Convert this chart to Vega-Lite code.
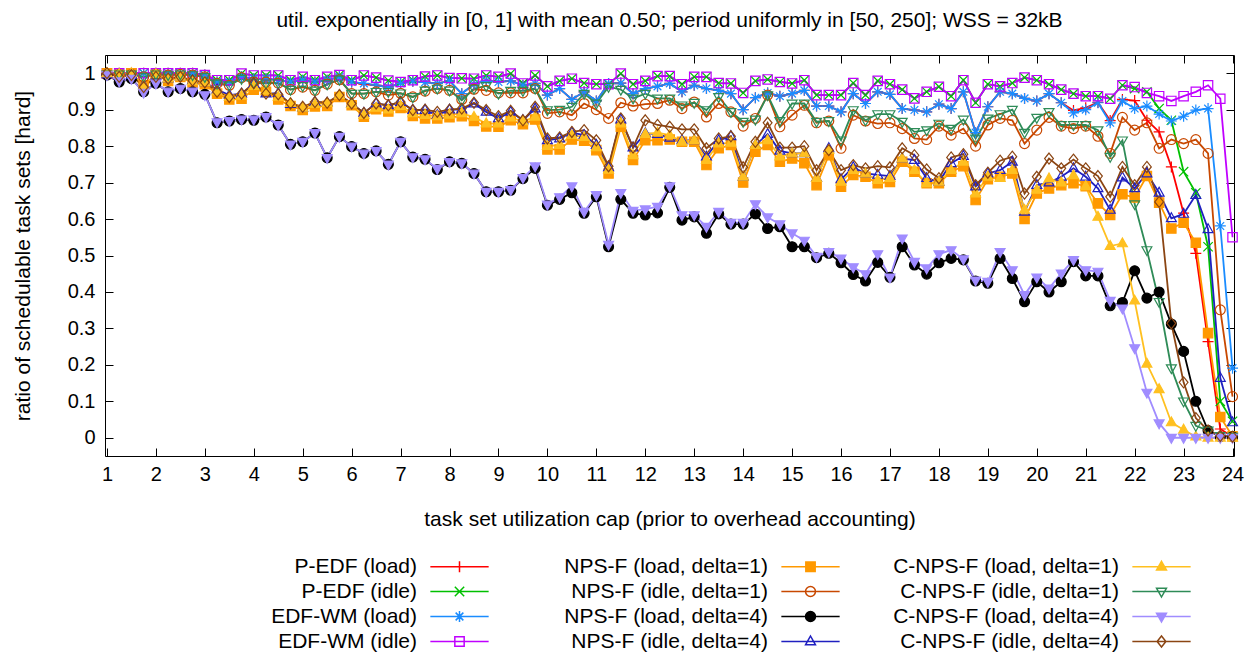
{
"$schema": "https://vega.github.io/schema/vega-lite/v6.json",
"width": 1129,
"height": 401,
"autosize": {"type": "none"},
"padding": {"left": 105, "top": 55, "right": 24, "bottom": 197},
"background": "white",
"title": {"text": "util. exponentially in [0, 1] with mean 0.50; period uniformly in [50, 250]; WSS = 32kB", "font": "Liberation Sans", "fontSize": 21, "fontWeight": "normal", "color": "#000000", "offset": 24, "anchor": "middle"},
"config": {
  "font": "Liberation Sans",
  "view": {"stroke": "#000000", "strokeWidth": 1},
  "axis": {"domain": false, "grid": false, "ticks": true, "tickSize": -8, "tickColor": "#000000", "tickWidth": 1, "labelFont": "Liberation Sans", "labelFontSize": 20, "labelColor": "#000000", "titleFont": "Liberation Sans", "titleFontSize": 21, "titleFontWeight": "normal", "titleColor": "#000000"},
  "legend": {"orient": "none", "legendX": 344, "legendY": 501, "columns": 3, "gridAlign": "all", "columnPadding": 50, "rowPadding": 3, "labelFont": "Liberation Sans", "labelFontSize": 21, "labelColor": "#000000", "labelAlign": "right", "labelOffset": -53, "symbolSize": 121, "symbolStrokeWidth": 1.5, "labelLimit": 400}
},
"datasets": {
"names": [
{"s":"PL","name":"P-EDF (load)"},{"s":"PI","name":"P-EDF (idle)"},{"s":"WL","name":"EDF-WM (load)"},{"s":"WI","name":"EDF-WM (idle)"},
{"s":"N1L","name":"NPS-F (load, delta=1)"},{"s":"N1I","name":"NPS-F (idle, delta=1)"},{"s":"N4L","name":"NPS-F (load, delta=4)"},{"s":"N4I","name":"NPS-F (idle, delta=4)"},
{"s":"C1L","name":"C-NPS-F (load, delta=1)"},{"s":"C1I","name":"C-NPS-F (idle, delta=1)"},{"s":"C4L","name":"C-NPS-F (load, delta=4)"},{"s":"C4I","name":"C-NPS-F (idle, delta=4)"}
],
"d": [
{"x":1,"s":"PL","y":1},{"x":1.25,"s":"PL","y":1},{"x":1.5,"s":"PL","y":1},{"x":1.75,"s":"PL","y":1},{"x":2,"s":"PL","y":1},{"x":2.25,"s":"PL","y":1},{"x":2.5,"s":"PL","y":1},{"x":2.75,"s":"PL","y":1},{"x":3,"s":"PL","y":0.995},{"x":3.25,"s":"PL","y":0.976},{"x":3.5,"s":"PL","y":0.976},{"x":3.75,"s":"PL","y":0.99},{"x":4,"s":"PL","y":0.985},{"x":4.25,"s":"PL","y":0.985},{"x":4.5,"s":"PL","y":0.981},{"x":4.75,"s":"PL","y":0.976},{"x":5,"s":"PL","y":0.981},{"x":5.25,"s":"PL","y":0.976},{"x":5.5,"s":"PL","y":0.981},{"x":5.75,"s":"PL","y":0.99},{"x":6,"s":"PL","y":0.976},{"x":6.25,"s":"PL","y":0.97},{"x":6.5,"s":"PL","y":0.967},{"x":6.75,"s":"PL","y":0.962},{"x":7,"s":"PL","y":0.972},{"x":7.25,"s":"PL","y":0.978},{"x":7.5,"s":"PL","y":0.975},{"x":7.75,"s":"PL","y":0.972},{"x":8,"s":"PL","y":0.979},{"x":8.25,"s":"PL","y":0.944},{"x":8.5,"s":"PL","y":0.97},{"x":8.75,"s":"PL","y":0.98},{"x":9,"s":"PL","y":0.976},{"x":9.25,"s":"PL","y":0.979},{"x":9.5,"s":"PL","y":0.967},{"x":9.75,"s":"PL","y":0.972},{"x":10,"s":"PL","y":0.94},{"x":10.25,"s":"PL","y":0.958},{"x":10.5,"s":"PL","y":0.928},{"x":10.75,"s":"PL","y":0.949},{"x":11,"s":"PL","y":0.924},{"x":11.25,"s":"PL","y":0.972},{"x":11.5,"s":"PL","y":0.973},{"x":11.75,"s":"PL","y":0.944},{"x":12,"s":"PL","y":0.958},{"x":12.25,"s":"PL","y":0.964},{"x":12.5,"s":"PL","y":0.972},{"x":12.75,"s":"PL","y":0.949},{"x":13,"s":"PL","y":0.967},{"x":13.25,"s":"PL","y":0.958},{"x":13.5,"s":"PL","y":0.953},{"x":13.75,"s":"PL","y":0.944},{"x":14,"s":"PL","y":0.9},{"x":14.25,"s":"PL","y":0.933},{"x":14.5,"s":"PL","y":0.946},{"x":14.75,"s":"PL","y":0.937},{"x":15,"s":"PL","y":0.944},{"x":15.25,"s":"PL","y":0.953},{"x":15.5,"s":"PL","y":0.91},{"x":15.75,"s":"PL","y":0.91},{"x":16,"s":"PL","y":0.894},{"x":16.25,"s":"PL","y":0.944},{"x":16.5,"s":"PL","y":0.917},{"x":16.75,"s":"PL","y":0.949},{"x":17,"s":"PL","y":0.942},{"x":17.25,"s":"PL","y":0.903},{"x":17.5,"s":"PL","y":0.899},{"x":17.75,"s":"PL","y":0.894},{"x":18,"s":"PL","y":0.915},{"x":18.25,"s":"PL","y":0.903},{"x":18.5,"s":"PL","y":0.949},{"x":18.75,"s":"PL","y":0.837},{"x":19,"s":"PL","y":0.908},{"x":19.25,"s":"PL","y":0.949},{"x":19.5,"s":"PL","y":0.944},{"x":19.75,"s":"PL","y":0.931},{"x":20,"s":"PL","y":0.924},{"x":20.25,"s":"PL","y":0.944},{"x":20.5,"s":"PL","y":0.919},{"x":20.75,"s":"PL","y":0.898},{"x":21,"s":"PL","y":0.905},{"x":21.25,"s":"PL","y":0.92},{"x":21.5,"s":"PL","y":0.87},{"x":21.75,"s":"PL","y":0.928},{"x":22,"s":"PL","y":0.925},{"x":22.25,"s":"PL","y":0.871},{"x":22.5,"s":"PL","y":0.839},{"x":22.75,"s":"PL","y":0.743},{"x":23,"s":"PL","y":0.616},{"x":23.25,"s":"PL","y":0.506},{"x":23.5,"s":"PL","y":0.264},{"x":23.75,"s":"PL","y":0.024},{"x":24,"s":"PL","y":0.003},
{"x":1,"s":"PI","y":1},{"x":1.25,"s":"PI","y":1},{"x":1.5,"s":"PI","y":1},{"x":1.75,"s":"PI","y":1},{"x":2,"s":"PI","y":1},{"x":2.25,"s":"PI","y":1},{"x":2.5,"s":"PI","y":1},{"x":2.75,"s":"PI","y":1},{"x":3,"s":"PI","y":0.995},{"x":3.25,"s":"PI","y":0.981},{"x":3.5,"s":"PI","y":0.981},{"x":3.75,"s":"PI","y":0.999},{"x":4,"s":"PI","y":0.994},{"x":4.25,"s":"PI","y":0.994},{"x":4.5,"s":"PI","y":0.994},{"x":4.75,"s":"PI","y":0.981},{"x":5,"s":"PI","y":0.99},{"x":5.25,"s":"PI","y":0.981},{"x":5.5,"s":"PI","y":0.99},{"x":5.75,"s":"PI","y":0.995},{"x":6,"s":"PI","y":0.981},{"x":6.25,"s":"PI","y":0.994},{"x":6.5,"s":"PI","y":0.988},{"x":6.75,"s":"PI","y":0.98},{"x":7,"s":"PI","y":0.976},{"x":7.25,"s":"PI","y":0.981},{"x":7.5,"s":"PI","y":0.991},{"x":7.75,"s":"PI","y":0.994},{"x":8,"s":"PI","y":0.987},{"x":8.25,"s":"PI","y":0.986},{"x":8.5,"s":"PI","y":0.985},{"x":8.75,"s":"PI","y":0.994},{"x":9,"s":"PI","y":0.99},{"x":9.25,"s":"PI","y":0.999},{"x":9.5,"s":"PI","y":0.972},{"x":9.75,"s":"PI","y":0.994},{"x":10,"s":"PI","y":0.964},{"x":10.25,"s":"PI","y":0.979},{"x":10.5,"s":"PI","y":0.985},{"x":10.75,"s":"PI","y":0.973},{"x":11,"s":"PI","y":0.97},{"x":11.25,"s":"PI","y":0.97},{"x":11.5,"s":"PI","y":0.999},{"x":11.75,"s":"PI","y":0.97},{"x":12,"s":"PI","y":0.979},{"x":12.25,"s":"PI","y":0.992},{"x":12.5,"s":"PI","y":0.992},{"x":12.75,"s":"PI","y":0.97},{"x":13,"s":"PI","y":0.99},{"x":13.25,"s":"PI","y":0.99},{"x":13.5,"s":"PI","y":0.973},{"x":13.75,"s":"PI","y":0.972},{"x":14,"s":"PI","y":0.946},{"x":14.25,"s":"PI","y":0.979},{"x":14.5,"s":"PI","y":0.983},{"x":14.75,"s":"PI","y":0.976},{"x":15,"s":"PI","y":0.972},{"x":15.25,"s":"PI","y":0.981},{"x":15.5,"s":"PI","y":0.94},{"x":15.75,"s":"PI","y":0.94},{"x":16,"s":"PI","y":0.94},{"x":16.25,"s":"PI","y":0.973},{"x":16.5,"s":"PI","y":0.94},{"x":16.75,"s":"PI","y":0.979},{"x":17,"s":"PI","y":0.97},{"x":17.25,"s":"PI","y":0.955},{"x":17.5,"s":"PI","y":0.931},{"x":17.75,"s":"PI","y":0.949},{"x":18,"s":"PI","y":0.963},{"x":18.25,"s":"PI","y":0.937},{"x":18.5,"s":"PI","y":0.981},{"x":18.75,"s":"PI","y":0.919},{"x":19,"s":"PI","y":0.97},{"x":19.25,"s":"PI","y":0.964},{"x":19.5,"s":"PI","y":0.973},{"x":19.75,"s":"PI","y":0.988},{"x":20,"s":"PI","y":0.981},{"x":20.25,"s":"PI","y":0.97},{"x":20.5,"s":"PI","y":0.955},{"x":20.75,"s":"PI","y":0.944},{"x":21,"s":"PI","y":0.937},{"x":21.25,"s":"PI","y":0.937},{"x":21.5,"s":"PI","y":0.93},{"x":21.75,"s":"PI","y":0.967},{"x":22,"s":"PI","y":0.958},{"x":22.25,"s":"PI","y":0.949},{"x":22.5,"s":"PI","y":0.903},{"x":22.75,"s":"PI","y":0.871},{"x":23,"s":"PI","y":0.73},{"x":23.25,"s":"PI","y":0.672},{"x":23.5,"s":"PI","y":0.524},{"x":23.75,"s":"PI","y":0.1},{"x":24,"s":"PI","y":0.045},
{"x":1,"s":"WL","y":1},{"x":1.25,"s":"WL","y":1},{"x":1.5,"s":"WL","y":1},{"x":1.75,"s":"WL","y":1},{"x":2,"s":"WL","y":1},{"x":2.25,"s":"WL","y":1},{"x":2.5,"s":"WL","y":1},{"x":2.75,"s":"WL","y":1},{"x":3,"s":"WL","y":0.995},{"x":3.25,"s":"WL","y":0.976},{"x":3.5,"s":"WL","y":0.976},{"x":3.75,"s":"WL","y":0.99},{"x":4,"s":"WL","y":0.985},{"x":4.25,"s":"WL","y":0.985},{"x":4.5,"s":"WL","y":0.981},{"x":4.75,"s":"WL","y":0.976},{"x":5,"s":"WL","y":0.981},{"x":5.25,"s":"WL","y":0.976},{"x":5.5,"s":"WL","y":0.981},{"x":5.75,"s":"WL","y":0.99},{"x":6,"s":"WL","y":0.976},{"x":6.25,"s":"WL","y":0.972},{"x":6.5,"s":"WL","y":0.967},{"x":6.75,"s":"WL","y":0.962},{"x":7,"s":"WL","y":0.972},{"x":7.25,"s":"WL","y":0.978},{"x":7.5,"s":"WL","y":0.975},{"x":7.75,"s":"WL","y":0.972},{"x":8,"s":"WL","y":0.979},{"x":8.25,"s":"WL","y":0.944},{"x":8.5,"s":"WL","y":0.97},{"x":8.75,"s":"WL","y":0.98},{"x":9,"s":"WL","y":0.976},{"x":9.25,"s":"WL","y":0.979},{"x":9.5,"s":"WL","y":0.967},{"x":9.75,"s":"WL","y":0.972},{"x":10,"s":"WL","y":0.94},{"x":10.25,"s":"WL","y":0.958},{"x":10.5,"s":"WL","y":0.928},{"x":10.75,"s":"WL","y":0.949},{"x":11,"s":"WL","y":0.924},{"x":11.25,"s":"WL","y":0.972},{"x":11.5,"s":"WL","y":0.973},{"x":11.75,"s":"WL","y":0.944},{"x":12,"s":"WL","y":0.958},{"x":12.25,"s":"WL","y":0.964},{"x":12.5,"s":"WL","y":0.972},{"x":12.75,"s":"WL","y":0.949},{"x":13,"s":"WL","y":0.967},{"x":13.25,"s":"WL","y":0.958},{"x":13.5,"s":"WL","y":0.953},{"x":13.75,"s":"WL","y":0.944},{"x":14,"s":"WL","y":0.9},{"x":14.25,"s":"WL","y":0.933},{"x":14.5,"s":"WL","y":0.946},{"x":14.75,"s":"WL","y":0.937},{"x":15,"s":"WL","y":0.944},{"x":15.25,"s":"WL","y":0.953},{"x":15.5,"s":"WL","y":0.91},{"x":15.75,"s":"WL","y":0.91},{"x":16,"s":"WL","y":0.894},{"x":16.25,"s":"WL","y":0.944},{"x":16.5,"s":"WL","y":0.917},{"x":16.75,"s":"WL","y":0.949},{"x":17,"s":"WL","y":0.942},{"x":17.25,"s":"WL","y":0.903},{"x":17.5,"s":"WL","y":0.899},{"x":17.75,"s":"WL","y":0.894},{"x":18,"s":"WL","y":0.915},{"x":18.25,"s":"WL","y":0.903},{"x":18.5,"s":"WL","y":0.949},{"x":18.75,"s":"WL","y":0.837},{"x":19,"s":"WL","y":0.908},{"x":19.25,"s":"WL","y":0.949},{"x":19.5,"s":"WL","y":0.944},{"x":19.75,"s":"WL","y":0.931},{"x":20,"s":"WL","y":0.924},{"x":20.25,"s":"WL","y":0.944},{"x":20.5,"s":"WL","y":0.919},{"x":20.75,"s":"WL","y":0.891},{"x":21,"s":"WL","y":0.9},{"x":21.25,"s":"WL","y":0.919},{"x":21.5,"s":"WL","y":0.864},{"x":21.75,"s":"WL","y":0.924},{"x":22,"s":"WL","y":0.903},{"x":22.25,"s":"WL","y":0.91},{"x":22.5,"s":"WL","y":0.888},{"x":22.75,"s":"WL","y":0.869},{"x":23,"s":"WL","y":0.882},{"x":23.25,"s":"WL","y":0.899},{"x":23.5,"s":"WL","y":0.903},{"x":23.75,"s":"WL","y":0.581},{"x":24,"s":"WL","y":0.191},
{"x":1,"s":"WI","y":1},{"x":1.25,"s":"WI","y":1},{"x":1.5,"s":"WI","y":1},{"x":1.75,"s":"WI","y":1},{"x":2,"s":"WI","y":1},{"x":2.25,"s":"WI","y":1},{"x":2.5,"s":"WI","y":1},{"x":2.75,"s":"WI","y":1},{"x":3,"s":"WI","y":0.995},{"x":3.25,"s":"WI","y":0.981},{"x":3.5,"s":"WI","y":0.981},{"x":3.75,"s":"WI","y":0.999},{"x":4,"s":"WI","y":0.994},{"x":4.25,"s":"WI","y":0.994},{"x":4.5,"s":"WI","y":0.994},{"x":4.75,"s":"WI","y":0.981},{"x":5,"s":"WI","y":0.99},{"x":5.25,"s":"WI","y":0.981},{"x":5.5,"s":"WI","y":0.99},{"x":5.75,"s":"WI","y":0.995},{"x":6,"s":"WI","y":0.981},{"x":6.25,"s":"WI","y":0.994},{"x":6.5,"s":"WI","y":0.988},{"x":6.75,"s":"WI","y":0.98},{"x":7,"s":"WI","y":0.976},{"x":7.25,"s":"WI","y":0.981},{"x":7.5,"s":"WI","y":0.991},{"x":7.75,"s":"WI","y":0.994},{"x":8,"s":"WI","y":0.987},{"x":8.25,"s":"WI","y":0.986},{"x":8.5,"s":"WI","y":0.985},{"x":8.75,"s":"WI","y":0.994},{"x":9,"s":"WI","y":0.99},{"x":9.25,"s":"WI","y":0.999},{"x":9.5,"s":"WI","y":0.972},{"x":9.75,"s":"WI","y":0.994},{"x":10,"s":"WI","y":0.964},{"x":10.25,"s":"WI","y":0.979},{"x":10.5,"s":"WI","y":0.985},{"x":10.75,"s":"WI","y":0.973},{"x":11,"s":"WI","y":0.97},{"x":11.25,"s":"WI","y":0.97},{"x":11.5,"s":"WI","y":0.999},{"x":11.75,"s":"WI","y":0.97},{"x":12,"s":"WI","y":0.979},{"x":12.25,"s":"WI","y":0.992},{"x":12.5,"s":"WI","y":0.992},{"x":12.75,"s":"WI","y":0.97},{"x":13,"s":"WI","y":0.99},{"x":13.25,"s":"WI","y":0.99},{"x":13.5,"s":"WI","y":0.973},{"x":13.75,"s":"WI","y":0.972},{"x":14,"s":"WI","y":0.946},{"x":14.25,"s":"WI","y":0.979},{"x":14.5,"s":"WI","y":0.983},{"x":14.75,"s":"WI","y":0.976},{"x":15,"s":"WI","y":0.972},{"x":15.25,"s":"WI","y":0.981},{"x":15.5,"s":"WI","y":0.94},{"x":15.75,"s":"WI","y":0.94},{"x":16,"s":"WI","y":0.94},{"x":16.25,"s":"WI","y":0.973},{"x":16.5,"s":"WI","y":0.94},{"x":16.75,"s":"WI","y":0.979},{"x":17,"s":"WI","y":0.97},{"x":17.25,"s":"WI","y":0.955},{"x":17.5,"s":"WI","y":0.931},{"x":17.75,"s":"WI","y":0.949},{"x":18,"s":"WI","y":0.963},{"x":18.25,"s":"WI","y":0.937},{"x":18.5,"s":"WI","y":0.981},{"x":18.75,"s":"WI","y":0.919},{"x":19,"s":"WI","y":0.97},{"x":19.25,"s":"WI","y":0.964},{"x":19.5,"s":"WI","y":0.973},{"x":19.75,"s":"WI","y":0.988},{"x":20,"s":"WI","y":0.981},{"x":20.25,"s":"WI","y":0.97},{"x":20.5,"s":"WI","y":0.955},{"x":20.75,"s":"WI","y":0.944},{"x":21,"s":"WI","y":0.937},{"x":21.25,"s":"WI","y":0.937},{"x":21.5,"s":"WI","y":0.93},{"x":21.75,"s":"WI","y":0.967},{"x":22,"s":"WI","y":0.962},{"x":22.25,"s":"WI","y":0.946},{"x":22.5,"s":"WI","y":0.937},{"x":22.75,"s":"WI","y":0.924},{"x":23,"s":"WI","y":0.937},{"x":23.25,"s":"WI","y":0.949},{"x":23.5,"s":"WI","y":0.967},{"x":23.75,"s":"WI","y":0.93},{"x":24,"s":"WI","y":0.55},
{"x":1,"s":"N1L","y":1},{"x":1.25,"s":"N1L","y":0.995},{"x":1.5,"s":"N1L","y":1},{"x":1.75,"s":"N1L","y":0.967},{"x":2,"s":"N1L","y":0.995},{"x":2.25,"s":"N1L","y":0.979},{"x":2.5,"s":"N1L","y":0.99},{"x":2.75,"s":"N1L","y":0.973},{"x":3,"s":"N1L","y":0.97},{"x":3.25,"s":"N1L","y":0.944},{"x":3.5,"s":"N1L","y":0.928},{"x":3.75,"s":"N1L","y":0.93},{"x":4,"s":"N1L","y":0.955},{"x":4.25,"s":"N1L","y":0.949},{"x":4.5,"s":"N1L","y":0.928},{"x":4.75,"s":"N1L","y":0.91},{"x":5,"s":"N1L","y":0.899},{"x":5.25,"s":"N1L","y":0.909},{"x":5.5,"s":"N1L","y":0.91},{"x":5.75,"s":"N1L","y":0.935},{"x":6,"s":"N1L","y":0.912},{"x":6.25,"s":"N1L","y":0.881},{"x":6.5,"s":"N1L","y":0.901},{"x":6.75,"s":"N1L","y":0.895},{"x":7,"s":"N1L","y":0.905},{"x":7.25,"s":"N1L","y":0.883},{"x":7.5,"s":"N1L","y":0.876},{"x":7.75,"s":"N1L","y":0.876},{"x":8,"s":"N1L","y":0.879},{"x":8.25,"s":"N1L","y":0.882},{"x":8.5,"s":"N1L","y":0.869},{"x":8.75,"s":"N1L","y":0.854},{"x":9,"s":"N1L","y":0.853},{"x":9.25,"s":"N1L","y":0.871},{"x":9.5,"s":"N1L","y":0.86},{"x":9.75,"s":"N1L","y":0.873},{"x":10,"s":"N1L","y":0.791},{"x":10.25,"s":"N1L","y":0.791},{"x":10.5,"s":"N1L","y":0.818},{"x":10.75,"s":"N1L","y":0.815},{"x":11,"s":"N1L","y":0.789},{"x":11.25,"s":"N1L","y":0.725},{"x":11.5,"s":"N1L","y":0.853},{"x":11.75,"s":"N1L","y":0.762},{"x":12,"s":"N1L","y":0.816},{"x":12.25,"s":"N1L","y":0.816},{"x":12.5,"s":"N1L","y":0.818},{"x":12.75,"s":"N1L","y":0.812},{"x":13,"s":"N1L","y":0.812},{"x":13.25,"s":"N1L","y":0.748},{"x":13.5,"s":"N1L","y":0.794},{"x":13.75,"s":"N1L","y":0.803},{"x":14,"s":"N1L","y":0.7},{"x":14.25,"s":"N1L","y":0.785},{"x":14.5,"s":"N1L","y":0.803},{"x":14.75,"s":"N1L","y":0.757},{"x":15,"s":"N1L","y":0.766},{"x":15.25,"s":"N1L","y":0.753},{"x":15.5,"s":"N1L","y":0.693},{"x":15.75,"s":"N1L","y":0.775},{"x":16,"s":"N1L","y":0.689},{"x":16.25,"s":"N1L","y":0.721},{"x":16.5,"s":"N1L","y":0.716},{"x":16.75,"s":"N1L","y":0.698},{"x":17,"s":"N1L","y":0.702},{"x":17.25,"s":"N1L","y":0.757},{"x":17.5,"s":"N1L","y":0.73},{"x":17.75,"s":"N1L","y":0.698},{"x":18,"s":"N1L","y":0.698},{"x":18.25,"s":"N1L","y":0.73},{"x":18.5,"s":"N1L","y":0.745},{"x":18.75,"s":"N1L","y":0.652},{"x":19,"s":"N1L","y":0.709},{"x":19.25,"s":"N1L","y":0.716},{"x":19.5,"s":"N1L","y":0.725},{"x":19.75,"s":"N1L","y":0.6},{"x":20,"s":"N1L","y":0.67},{"x":20.25,"s":"N1L","y":0.684},{"x":20.5,"s":"N1L","y":0.693},{"x":20.75,"s":"N1L","y":0.698},{"x":21,"s":"N1L","y":0.69},{"x":21.25,"s":"N1L","y":0.643},{"x":21.5,"s":"N1L","y":0.611},{"x":21.75,"s":"N1L","y":0.668},{"x":22,"s":"N1L","y":0.659},{"x":22.25,"s":"N1L","y":0.718},{"x":22.5,"s":"N1L","y":0.645},{"x":22.75,"s":"N1L","y":0.574},{"x":23,"s":"N1L","y":0.59},{"x":23.25,"s":"N1L","y":0.535},{"x":23.5,"s":"N1L","y":0.287},{"x":23.75,"s":"N1L","y":0.057},{"x":24,"s":"N1L","y":0.004},
{"x":1,"s":"N1I","y":0.997},{"x":1.25,"s":"N1I","y":0.997},{"x":1.5,"s":"N1I","y":0.997},{"x":1.75,"s":"N1I","y":0.99},{"x":2,"s":"N1I","y":0.997},{"x":2.25,"s":"N1I","y":0.995},{"x":2.5,"s":"N1I","y":0.997},{"x":2.75,"s":"N1I","y":0.995},{"x":3,"s":"N1I","y":0.99},{"x":3.25,"s":"N1I","y":0.972},{"x":3.5,"s":"N1I","y":0.967},{"x":3.75,"s":"N1I","y":0.988},{"x":4,"s":"N1I","y":0.976},{"x":4.25,"s":"N1I","y":0.976},{"x":4.5,"s":"N1I","y":0.973},{"x":4.75,"s":"N1I","y":0.955},{"x":5,"s":"N1I","y":0.962},{"x":5.25,"s":"N1I","y":0.953},{"x":5.5,"s":"N1I","y":0.97},{"x":5.75,"s":"N1I","y":0.982},{"x":6,"s":"N1I","y":0.944},{"x":6.25,"s":"N1I","y":0.944},{"x":6.5,"s":"N1I","y":0.949},{"x":6.75,"s":"N1I","y":0.94},{"x":7,"s":"N1I","y":0.945},{"x":7.25,"s":"N1I","y":0.935},{"x":7.5,"s":"N1I","y":0.951},{"x":7.75,"s":"N1I","y":0.958},{"x":8,"s":"N1I","y":0.953},{"x":8.25,"s":"N1I","y":0.928},{"x":8.5,"s":"N1I","y":0.956},{"x":8.75,"s":"N1I","y":0.953},{"x":9,"s":"N1I","y":0.946},{"x":9.25,"s":"N1I","y":0.946},{"x":9.5,"s":"N1I","y":0.946},{"x":9.75,"s":"N1I","y":0.958},{"x":10,"s":"N1I","y":0.89},{"x":10.25,"s":"N1I","y":0.894},{"x":10.5,"s":"N1I","y":0.885},{"x":10.75,"s":"N1I","y":0.917},{"x":11,"s":"N1I","y":0.9},{"x":11.25,"s":"N1I","y":0.876},{"x":11.5,"s":"N1I","y":0.919},{"x":11.75,"s":"N1I","y":0.91},{"x":12,"s":"N1I","y":0.915},{"x":12.25,"s":"N1I","y":0.917},{"x":12.5,"s":"N1I","y":0.926},{"x":12.75,"s":"N1I","y":0.903},{"x":13,"s":"N1I","y":0.921},{"x":13.25,"s":"N1I","y":0.88},{"x":13.5,"s":"N1I","y":0.917},{"x":13.75,"s":"N1I","y":0.894},{"x":14,"s":"N1I","y":0.855},{"x":14.25,"s":"N1I","y":0.876},{"x":14.5,"s":"N1I","y":0.94},{"x":14.75,"s":"N1I","y":0.853},{"x":15,"s":"N1I","y":0.885},{"x":15.25,"s":"N1I","y":0.912},{"x":15.5,"s":"N1I","y":0.864},{"x":15.75,"s":"N1I","y":0.869},{"x":16,"s":"N1I","y":0.794},{"x":16.25,"s":"N1I","y":0.885},{"x":16.5,"s":"N1I","y":0.869},{"x":16.75,"s":"N1I","y":0.862},{"x":17,"s":"N1I","y":0.864},{"x":17.25,"s":"N1I","y":0.848},{"x":17.5,"s":"N1I","y":0.821},{"x":17.75,"s":"N1I","y":0.818},{"x":18,"s":"N1I","y":0.855},{"x":18.25,"s":"N1I","y":0.83},{"x":18.5,"s":"N1I","y":0.848},{"x":18.75,"s":"N1I","y":0.8},{"x":19,"s":"N1I","y":0.858},{"x":19.25,"s":"N1I","y":0.876},{"x":19.5,"s":"N1I","y":0.871},{"x":19.75,"s":"N1I","y":0.807},{"x":20,"s":"N1I","y":0.844},{"x":20.25,"s":"N1I","y":0.879},{"x":20.5,"s":"N1I","y":0.855},{"x":20.75,"s":"N1I","y":0.848},{"x":21,"s":"N1I","y":0.855},{"x":21.25,"s":"N1I","y":0.827},{"x":21.5,"s":"N1I","y":0.78},{"x":21.75,"s":"N1I","y":0.879},{"x":22,"s":"N1I","y":0.844},{"x":22.25,"s":"N1I","y":0.864},{"x":22.5,"s":"N1I","y":0.794},{"x":22.75,"s":"N1I","y":0.818},{"x":23,"s":"N1I","y":0.807},{"x":23.25,"s":"N1I","y":0.818},{"x":23.5,"s":"N1I","y":0.78},{"x":23.75,"s":"N1I","y":0.351},{"x":24,"s":"N1I","y":0.113},
{"x":1,"s":"N4L","y":0.995},{"x":1.25,"s":"N4L","y":0.976},{"x":1.5,"s":"N4L","y":0.985},{"x":1.75,"s":"N4L","y":0.949},{"x":2,"s":"N4L","y":0.972},{"x":2.25,"s":"N4L","y":0.949},{"x":2.5,"s":"N4L","y":0.958},{"x":2.75,"s":"N4L","y":0.949},{"x":3,"s":"N4L","y":0.942},{"x":3.25,"s":"N4L","y":0.864},{"x":3.5,"s":"N4L","y":0.869},{"x":3.75,"s":"N4L","y":0.873},{"x":4,"s":"N4L","y":0.871},{"x":4.25,"s":"N4L","y":0.88},{"x":4.5,"s":"N4L","y":0.858},{"x":4.75,"s":"N4L","y":0.805},{"x":5,"s":"N4L","y":0.812},{"x":5.25,"s":"N4L","y":0.836},{"x":5.5,"s":"N4L","y":0.768},{"x":5.75,"s":"N4L","y":0.826},{"x":6,"s":"N4L","y":0.799},{"x":6.25,"s":"N4L","y":0.78},{"x":6.5,"s":"N4L","y":0.787},{"x":6.75,"s":"N4L","y":0.75},{"x":7,"s":"N4L","y":0.812},{"x":7.25,"s":"N4L","y":0.77},{"x":7.5,"s":"N4L","y":0.764},{"x":7.75,"s":"N4L","y":0.736},{"x":8,"s":"N4L","y":0.757},{"x":8.25,"s":"N4L","y":0.753},{"x":8.5,"s":"N4L","y":0.725},{"x":8.75,"s":"N4L","y":0.675},{"x":9,"s":"N4L","y":0.675},{"x":9.25,"s":"N4L","y":0.679},{"x":9.5,"s":"N4L","y":0.711},{"x":9.75,"s":"N4L","y":0.739},{"x":10,"s":"N4L","y":0.638},{"x":10.25,"s":"N4L","y":0.654},{"x":10.5,"s":"N4L","y":0.672},{"x":10.75,"s":"N4L","y":0.616},{"x":11,"s":"N4L","y":0.661},{"x":11.25,"s":"N4L","y":0.524},{"x":11.5,"s":"N4L","y":0.654},{"x":11.75,"s":"N4L","y":0.616},{"x":12,"s":"N4L","y":0.611},{"x":12.25,"s":"N4L","y":0.617},{"x":12.5,"s":"N4L","y":0.687},{"x":12.75,"s":"N4L","y":0.597},{"x":13,"s":"N4L","y":0.606},{"x":13.25,"s":"N4L","y":0.561},{"x":13.5,"s":"N4L","y":0.614},{"x":13.75,"s":"N4L","y":0.586},{"x":14,"s":"N4L","y":0.586},{"x":14.25,"s":"N4L","y":0.614},{"x":14.5,"s":"N4L","y":0.574},{"x":14.75,"s":"N4L","y":0.579},{"x":15,"s":"N4L","y":0.524},{"x":15.25,"s":"N4L","y":0.524},{"x":15.5,"s":"N4L","y":0.494},{"x":15.75,"s":"N4L","y":0.506},{"x":16,"s":"N4L","y":0.48},{"x":16.25,"s":"N4L","y":0.448},{"x":16.5,"s":"N4L","y":0.43},{"x":16.75,"s":"N4L","y":0.481},{"x":17,"s":"N4L","y":0.44},{"x":17.25,"s":"N4L","y":0.524},{"x":17.5,"s":"N4L","y":0.474},{"x":17.75,"s":"N4L","y":0.449},{"x":18,"s":"N4L","y":0.48},{"x":18.25,"s":"N4L","y":0.492},{"x":18.5,"s":"N4L","y":0.488},{"x":18.75,"s":"N4L","y":0.43},{"x":19,"s":"N4L","y":0.424},{"x":19.25,"s":"N4L","y":0.492},{"x":19.5,"s":"N4L","y":0.437},{"x":19.75,"s":"N4L","y":0.373},{"x":20,"s":"N4L","y":0.428},{"x":20.25,"s":"N4L","y":0.4},{"x":20.5,"s":"N4L","y":0.428},{"x":20.75,"s":"N4L","y":0.483},{"x":21,"s":"N4L","y":0.444},{"x":21.25,"s":"N4L","y":0.444},{"x":21.5,"s":"N4L","y":0.362},{"x":21.75,"s":"N4L","y":0.371},{"x":22,"s":"N4L","y":0.458},{"x":22.25,"s":"N4L","y":0.383},{"x":22.5,"s":"N4L","y":0.4},{"x":22.75,"s":"N4L","y":0.312},{"x":23,"s":"N4L","y":0.237},{"x":23.25,"s":"N4L","y":0.1},{"x":23.5,"s":"N4L","y":0.02},{"x":23.75,"s":"N4L","y":0.003},{"x":24,"s":"N4L","y":0.003},
{"x":1,"s":"N4I","y":0.997},{"x":1.25,"s":"N4I","y":0.993},{"x":1.5,"s":"N4I","y":0.995},{"x":1.75,"s":"N4I","y":0.967},{"x":2,"s":"N4I","y":0.993},{"x":2.25,"s":"N4I","y":0.985},{"x":2.5,"s":"N4I","y":0.99},{"x":2.75,"s":"N4I","y":0.98},{"x":3,"s":"N4I","y":0.975},{"x":3.25,"s":"N4I","y":0.955},{"x":3.5,"s":"N4I","y":0.94},{"x":3.75,"s":"N4I","y":0.944},{"x":4,"s":"N4I","y":0.97},{"x":4.25,"s":"N4I","y":0.944},{"x":4.5,"s":"N4I","y":0.945},{"x":4.75,"s":"N4I","y":0.915},{"x":5,"s":"N4I","y":0.905},{"x":5.25,"s":"N4I","y":0.921},{"x":5.5,"s":"N4I","y":0.919},{"x":5.75,"s":"N4I","y":0.94},{"x":6,"s":"N4I","y":0.917},{"x":6.25,"s":"N4I","y":0.891},{"x":6.5,"s":"N4I","y":0.917},{"x":6.75,"s":"N4I","y":0.912},{"x":7,"s":"N4I","y":0.921},{"x":7.25,"s":"N4I","y":0.899},{"x":7.5,"s":"N4I","y":0.899},{"x":7.75,"s":"N4I","y":0.885},{"x":8,"s":"N4I","y":0.9},{"x":8.25,"s":"N4I","y":0.9},{"x":8.5,"s":"N4I","y":0.917},{"x":8.75,"s":"N4I","y":0.894},{"x":9,"s":"N4I","y":0.876},{"x":9.25,"s":"N4I","y":0.894},{"x":9.5,"s":"N4I","y":0.871},{"x":9.75,"s":"N4I","y":0.903},{"x":10,"s":"N4I","y":0.816},{"x":10.25,"s":"N4I","y":0.821},{"x":10.5,"s":"N4I","y":0.837},{"x":10.75,"s":"N4I","y":0.83},{"x":11,"s":"N4I","y":0.803},{"x":11.25,"s":"N4I","y":0.742},{"x":11.5,"s":"N4I","y":0.873},{"x":11.75,"s":"N4I","y":0.796},{"x":12,"s":"N4I","y":0.835},{"x":12.25,"s":"N4I","y":0.833},{"x":12.5,"s":"N4I","y":0.823},{"x":12.75,"s":"N4I","y":0.816},{"x":13,"s":"N4I","y":0.816},{"x":13.25,"s":"N4I","y":0.771},{"x":13.5,"s":"N4I","y":0.816},{"x":13.75,"s":"N4I","y":0.827},{"x":14,"s":"N4I","y":0.716},{"x":14.25,"s":"N4I","y":0.803},{"x":14.5,"s":"N4I","y":0.833},{"x":14.75,"s":"N4I","y":0.787},{"x":15,"s":"N4I","y":0.78},{"x":15.25,"s":"N4I","y":0.78},{"x":15.5,"s":"N4I","y":0.712},{"x":15.75,"s":"N4I","y":0.794},{"x":16,"s":"N4I","y":0.709},{"x":16.25,"s":"N4I","y":0.742},{"x":16.5,"s":"N4I","y":0.725},{"x":16.75,"s":"N4I","y":0.721},{"x":17,"s":"N4I","y":0.718},{"x":17.25,"s":"N4I","y":0.766},{"x":17.5,"s":"N4I","y":0.762},{"x":17.75,"s":"N4I","y":0.712},{"x":18,"s":"N4I","y":0.702},{"x":18.25,"s":"N4I","y":0.753},{"x":18.5,"s":"N4I","y":0.773},{"x":18.75,"s":"N4I","y":0.689},{"x":19,"s":"N4I","y":0.725},{"x":19.25,"s":"N4I","y":0.734},{"x":19.5,"s":"N4I","y":0.757},{"x":19.75,"s":"N4I","y":0.62},{"x":20,"s":"N4I","y":0.693},{"x":20.25,"s":"N4I","y":0.7},{"x":20.5,"s":"N4I","y":0.716},{"x":20.75,"s":"N4I","y":0.739},{"x":21,"s":"N4I","y":0.716},{"x":21.25,"s":"N4I","y":0.684},{"x":21.5,"s":"N4I","y":0.625},{"x":21.75,"s":"N4I","y":0.714},{"x":22,"s":"N4I","y":0.684},{"x":22.25,"s":"N4I","y":0.725},{"x":22.5,"s":"N4I","y":0.672},{"x":22.75,"s":"N4I","y":0.602},{"x":23,"s":"N4I","y":0.614},{"x":23.25,"s":"N4I","y":0.666},{"x":23.5,"s":"N4I","y":0.572},{"x":23.75,"s":"N4I","y":0.164},{"x":24,"s":"N4I","y":0.042},
{"x":1,"s":"C1L","y":1},{"x":1.25,"s":"C1L","y":0.997},{"x":1.5,"s":"C1L","y":1},{"x":1.75,"s":"C1L","y":0.965},{"x":2,"s":"C1L","y":0.997},{"x":2.25,"s":"C1L","y":0.985},{"x":2.5,"s":"C1L","y":0.99},{"x":2.75,"s":"C1L","y":0.978},{"x":3,"s":"C1L","y":0.975},{"x":3.25,"s":"C1L","y":0.95},{"x":3.5,"s":"C1L","y":0.935},{"x":3.75,"s":"C1L","y":0.938},{"x":4,"s":"C1L","y":0.965},{"x":4.25,"s":"C1L","y":0.952},{"x":4.5,"s":"C1L","y":0.935},{"x":4.75,"s":"C1L","y":0.918},{"x":5,"s":"C1L","y":0.905},{"x":5.25,"s":"C1L","y":0.915},{"x":5.5,"s":"C1L","y":0.918},{"x":5.75,"s":"C1L","y":0.94},{"x":6,"s":"C1L","y":0.915},{"x":6.25,"s":"C1L","y":0.885},{"x":6.5,"s":"C1L","y":0.905},{"x":6.75,"s":"C1L","y":0.9},{"x":7,"s":"C1L","y":0.91},{"x":7.25,"s":"C1L","y":0.89},{"x":7.5,"s":"C1L","y":0.885},{"x":7.75,"s":"C1L","y":0.882},{"x":8,"s":"C1L","y":0.886},{"x":8.25,"s":"C1L","y":0.89},{"x":8.5,"s":"C1L","y":0.88},{"x":8.75,"s":"C1L","y":0.862},{"x":9,"s":"C1L","y":0.862},{"x":9.25,"s":"C1L","y":0.878},{"x":9.5,"s":"C1L","y":0.868},{"x":9.75,"s":"C1L","y":0.88},{"x":10,"s":"C1L","y":0.8},{"x":10.25,"s":"C1L","y":0.803},{"x":10.5,"s":"C1L","y":0.83},{"x":10.75,"s":"C1L","y":0.825},{"x":11,"s":"C1L","y":0.797},{"x":11.25,"s":"C1L","y":0.735},{"x":11.5,"s":"C1L","y":0.862},{"x":11.75,"s":"C1L","y":0.775},{"x":12,"s":"C1L","y":0.833},{"x":12.25,"s":"C1L","y":0.837},{"x":12.5,"s":"C1L","y":0.83},{"x":12.75,"s":"C1L","y":0.812},{"x":13,"s":"C1L","y":0.816},{"x":13.25,"s":"C1L","y":0.762},{"x":13.5,"s":"C1L","y":0.807},{"x":13.75,"s":"C1L","y":0.809},{"x":14,"s":"C1L","y":0.716},{"x":14.25,"s":"C1L","y":0.803},{"x":14.5,"s":"C1L","y":0.816},{"x":14.75,"s":"C1L","y":0.771},{"x":15,"s":"C1L","y":0.78},{"x":15.25,"s":"C1L","y":0.78},{"x":15.5,"s":"C1L","y":0.712},{"x":15.75,"s":"C1L","y":0.789},{"x":16,"s":"C1L","y":0.702},{"x":16.25,"s":"C1L","y":0.734},{"x":16.5,"s":"C1L","y":0.725},{"x":16.75,"s":"C1L","y":0.707},{"x":17,"s":"C1L","y":0.712},{"x":17.25,"s":"C1L","y":0.766},{"x":17.5,"s":"C1L","y":0.734},{"x":17.75,"s":"C1L","y":0.698},{"x":18,"s":"C1L","y":0.702},{"x":18.25,"s":"C1L","y":0.734},{"x":18.5,"s":"C1L","y":0.757},{"x":18.75,"s":"C1L","y":0.67},{"x":19,"s":"C1L","y":0.716},{"x":19.25,"s":"C1L","y":0.712},{"x":19.5,"s":"C1L","y":0.734},{"x":19.75,"s":"C1L","y":0.625},{"x":20,"s":"C1L","y":0.68},{"x":20.25,"s":"C1L","y":0.711},{"x":20.5,"s":"C1L","y":0.7},{"x":20.75,"s":"C1L","y":0.72},{"x":21,"s":"C1L","y":0.69},{"x":21.25,"s":"C1L","y":0.606},{"x":21.5,"s":"C1L","y":0.526},{"x":21.75,"s":"C1L","y":0.533},{"x":22,"s":"C1L","y":0.376},{"x":22.25,"s":"C1L","y":0.203},{"x":22.5,"s":"C1L","y":0.133},{"x":22.75,"s":"C1L","y":0.042},{"x":23,"s":"C1L","y":0.022},{"x":23.25,"s":"C1L","y":0.003},{"x":23.5,"s":"C1L","y":0},{"x":23.75,"s":"C1L","y":0},{"x":24,"s":"C1L","y":0},
{"x":1,"s":"C1I","y":0.997},{"x":1.25,"s":"C1I","y":0.997},{"x":1.5,"s":"C1I","y":0.997},{"x":1.75,"s":"C1I","y":0.99},{"x":2,"s":"C1I","y":0.997},{"x":2.25,"s":"C1I","y":0.995},{"x":2.5,"s":"C1I","y":0.997},{"x":2.75,"s":"C1I","y":0.995},{"x":3,"s":"C1I","y":0.99},{"x":3.25,"s":"C1I","y":0.972},{"x":3.5,"s":"C1I","y":0.967},{"x":3.75,"s":"C1I","y":0.985},{"x":4,"s":"C1I","y":0.973},{"x":4.25,"s":"C1I","y":0.972},{"x":4.5,"s":"C1I","y":0.973},{"x":4.75,"s":"C1I","y":0.955},{"x":5,"s":"C1I","y":0.965},{"x":5.25,"s":"C1I","y":0.953},{"x":5.5,"s":"C1I","y":0.97},{"x":5.75,"s":"C1I","y":0.983},{"x":6,"s":"C1I","y":0.944},{"x":6.25,"s":"C1I","y":0.944},{"x":6.5,"s":"C1I","y":0.949},{"x":6.75,"s":"C1I","y":0.949},{"x":7,"s":"C1I","y":0.945},{"x":7.25,"s":"C1I","y":0.935},{"x":7.5,"s":"C1I","y":0.953},{"x":7.75,"s":"C1I","y":0.958},{"x":8,"s":"C1I","y":0.953},{"x":8.25,"s":"C1I","y":0.926},{"x":8.5,"s":"C1I","y":0.958},{"x":8.75,"s":"C1I","y":0.965},{"x":9,"s":"C1I","y":0.944},{"x":9.25,"s":"C1I","y":0.952},{"x":9.5,"s":"C1I","y":0.952},{"x":9.75,"s":"C1I","y":0.958},{"x":10,"s":"C1I","y":0.899},{"x":10.25,"s":"C1I","y":0.9},{"x":10.5,"s":"C1I","y":0.908},{"x":10.75,"s":"C1I","y":0.944},{"x":11,"s":"C1I","y":0.917},{"x":11.25,"s":"C1I","y":0.963},{"x":11.5,"s":"C1I","y":0.955},{"x":11.75,"s":"C1I","y":0.931},{"x":12,"s":"C1I","y":0.944},{"x":12.25,"s":"C1I","y":0.931},{"x":12.5,"s":"C1I","y":0.931},{"x":12.75,"s":"C1I","y":0.912},{"x":13,"s":"C1I","y":0.919},{"x":13.25,"s":"C1I","y":0.899},{"x":13.5,"s":"C1I","y":0.935},{"x":13.75,"s":"C1I","y":0.894},{"x":14,"s":"C1I","y":0.867},{"x":14.25,"s":"C1I","y":0.873},{"x":14.5,"s":"C1I","y":0.94},{"x":14.75,"s":"C1I","y":0.869},{"x":15,"s":"C1I","y":0.917},{"x":15.25,"s":"C1I","y":0.917},{"x":15.5,"s":"C1I","y":0.867},{"x":15.75,"s":"C1I","y":0.869},{"x":16,"s":"C1I","y":0.816},{"x":16.25,"s":"C1I","y":0.899},{"x":16.5,"s":"C1I","y":0.871},{"x":16.75,"s":"C1I","y":0.888},{"x":17,"s":"C1I","y":0.888},{"x":17.25,"s":"C1I","y":0.867},{"x":17.5,"s":"C1I","y":0.839},{"x":17.75,"s":"C1I","y":0.844},{"x":18,"s":"C1I","y":0.862},{"x":18.25,"s":"C1I","y":0.848},{"x":18.5,"s":"C1I","y":0.873},{"x":18.75,"s":"C1I","y":0.821},{"x":19,"s":"C1I","y":0.876},{"x":19.25,"s":"C1I","y":0.888},{"x":19.5,"s":"C1I","y":0.9},{"x":19.75,"s":"C1I","y":0.837},{"x":20,"s":"C1I","y":0.878},{"x":20.25,"s":"C1I","y":0.894},{"x":20.5,"s":"C1I","y":0.858},{"x":20.75,"s":"C1I","y":0.858},{"x":21,"s":"C1I","y":0.858},{"x":21.25,"s":"C1I","y":0.844},{"x":21.5,"s":"C1I","y":0.771},{"x":21.75,"s":"C1I","y":0.816},{"x":22,"s":"C1I","y":0.641},{"x":22.25,"s":"C1I","y":0.515},{"x":22.5,"s":"C1I","y":0.373},{"x":22.75,"s":"C1I","y":0.191},{"x":23,"s":"C1I","y":0.1},{"x":23.25,"s":"C1I","y":0.033},{"x":23.5,"s":"C1I","y":0.02},{"x":23.75,"s":"C1I","y":0.005},{"x":24,"s":"C1I","y":0.003},
{"x":1,"s":"C4L","y":0.995},{"x":1.25,"s":"C4L","y":0.978},{"x":1.5,"s":"C4L","y":0.985},{"x":1.75,"s":"C4L","y":0.947},{"x":2,"s":"C4L","y":0.972},{"x":2.25,"s":"C4L","y":0.95},{"x":2.5,"s":"C4L","y":0.958},{"x":2.75,"s":"C4L","y":0.95},{"x":3,"s":"C4L","y":0.94},{"x":3.25,"s":"C4L","y":0.866},{"x":3.5,"s":"C4L","y":0.869},{"x":3.75,"s":"C4L","y":0.873},{"x":4,"s":"C4L","y":0.873},{"x":4.25,"s":"C4L","y":0.88},{"x":4.5,"s":"C4L","y":0.858},{"x":4.75,"s":"C4L","y":0.805},{"x":5,"s":"C4L","y":0.812},{"x":5.25,"s":"C4L","y":0.836},{"x":5.5,"s":"C4L","y":0.768},{"x":5.75,"s":"C4L","y":0.826},{"x":6,"s":"C4L","y":0.799},{"x":6.25,"s":"C4L","y":0.78},{"x":6.5,"s":"C4L","y":0.787},{"x":6.75,"s":"C4L","y":0.75},{"x":7,"s":"C4L","y":0.812},{"x":7.25,"s":"C4L","y":0.77},{"x":7.5,"s":"C4L","y":0.764},{"x":7.75,"s":"C4L","y":0.738},{"x":8,"s":"C4L","y":0.757},{"x":8.25,"s":"C4L","y":0.753},{"x":8.5,"s":"C4L","y":0.725},{"x":8.75,"s":"C4L","y":0.675},{"x":9,"s":"C4L","y":0.675},{"x":9.25,"s":"C4L","y":0.68},{"x":9.5,"s":"C4L","y":0.713},{"x":9.75,"s":"C4L","y":0.745},{"x":10,"s":"C4L","y":0.64},{"x":10.25,"s":"C4L","y":0.66},{"x":10.5,"s":"C4L","y":0.69},{"x":10.75,"s":"C4L","y":0.62},{"x":11,"s":"C4L","y":0.666},{"x":11.25,"s":"C4L","y":0.53},{"x":11.5,"s":"C4L","y":0.672},{"x":11.75,"s":"C4L","y":0.623},{"x":12,"s":"C4L","y":0.627},{"x":12.25,"s":"C4L","y":0.634},{"x":12.5,"s":"C4L","y":0.69},{"x":12.75,"s":"C4L","y":0.611},{"x":13,"s":"C4L","y":0.611},{"x":13.25,"s":"C4L","y":0.579},{"x":13.5,"s":"C4L","y":0.62},{"x":13.75,"s":"C4L","y":0.59},{"x":14,"s":"C4L","y":0.59},{"x":14.25,"s":"C4L","y":0.641},{"x":14.5,"s":"C4L","y":0.605},{"x":14.75,"s":"C4L","y":0.586},{"x":15,"s":"C4L","y":0.561},{"x":15.25,"s":"C4L","y":0.541},{"x":15.5,"s":"C4L","y":0.497},{"x":15.75,"s":"C4L","y":0.51},{"x":16,"s":"C4L","y":0.492},{"x":16.25,"s":"C4L","y":0.468},{"x":16.5,"s":"C4L","y":0.449},{"x":16.75,"s":"C4L","y":0.504},{"x":17,"s":"C4L","y":0.44},{"x":17.25,"s":"C4L","y":0.547},{"x":17.5,"s":"C4L","y":0.483},{"x":17.75,"s":"C4L","y":0.465},{"x":18,"s":"C4L","y":0.504},{"x":18.25,"s":"C4L","y":0.515},{"x":18.5,"s":"C4L","y":0.49},{"x":18.75,"s":"C4L","y":0.432},{"x":19,"s":"C4L","y":0.428},{"x":19.25,"s":"C4L","y":0.51},{"x":19.5,"s":"C4L","y":0.46},{"x":19.75,"s":"C4L","y":0.392},{"x":20,"s":"C4L","y":0.44},{"x":20.25,"s":"C4L","y":0.41},{"x":20.5,"s":"C4L","y":0.451},{"x":20.75,"s":"C4L","y":0.488},{"x":21,"s":"C4L","y":0.46},{"x":21.25,"s":"C4L","y":0.456},{"x":21.5,"s":"C4L","y":0.376},{"x":21.75,"s":"C4L","y":0.355},{"x":22,"s":"C4L","y":0.246},{"x":22.25,"s":"C4L","y":0.124},{"x":22.5,"s":"C4L","y":0.04},{"x":22.75,"s":"C4L","y":0},{"x":23,"s":"C4L","y":0},{"x":23.25,"s":"C4L","y":0},{"x":23.5,"s":"C4L","y":0},{"x":23.75,"s":"C4L","y":0},{"x":24,"s":"C4L","y":0},
{"x":1,"s":"C4I","y":1},{"x":1.25,"s":"C4I","y":0.99},{"x":1.5,"s":"C4I","y":0.995},{"x":1.75,"s":"C4I","y":0.962},{"x":2,"s":"C4I","y":0.99},{"x":2.25,"s":"C4I","y":0.985},{"x":2.5,"s":"C4I","y":0.99},{"x":2.75,"s":"C4I","y":0.98},{"x":3,"s":"C4I","y":0.975},{"x":3.25,"s":"C4I","y":0.949},{"x":3.5,"s":"C4I","y":0.935},{"x":3.75,"s":"C4I","y":0.944},{"x":4,"s":"C4I","y":0.973},{"x":4.25,"s":"C4I","y":0.944},{"x":4.5,"s":"C4I","y":0.942},{"x":4.75,"s":"C4I","y":0.917},{"x":5,"s":"C4I","y":0.908},{"x":5.25,"s":"C4I","y":0.921},{"x":5.5,"s":"C4I","y":0.919},{"x":5.75,"s":"C4I","y":0.94},{"x":6,"s":"C4I","y":0.917},{"x":6.25,"s":"C4I","y":0.891},{"x":6.5,"s":"C4I","y":0.917},{"x":6.75,"s":"C4I","y":0.912},{"x":7,"s":"C4I","y":0.921},{"x":7.25,"s":"C4I","y":0.899},{"x":7.5,"s":"C4I","y":0.9},{"x":7.75,"s":"C4I","y":0.894},{"x":8,"s":"C4I","y":0.9},{"x":8.25,"s":"C4I","y":0.903},{"x":8.5,"s":"C4I","y":0.919},{"x":8.75,"s":"C4I","y":0.899},{"x":9,"s":"C4I","y":0.882},{"x":9.25,"s":"C4I","y":0.897},{"x":9.5,"s":"C4I","y":0.871},{"x":9.75,"s":"C4I","y":0.908},{"x":10,"s":"C4I","y":0.821},{"x":10.25,"s":"C4I","y":0.824},{"x":10.5,"s":"C4I","y":0.839},{"x":10.75,"s":"C4I","y":0.844},{"x":11,"s":"C4I","y":0.816},{"x":11.25,"s":"C4I","y":0.745},{"x":11.5,"s":"C4I","y":0.876},{"x":11.75,"s":"C4I","y":0.796},{"x":12,"s":"C4I","y":0.871},{"x":12.25,"s":"C4I","y":0.858},{"x":12.5,"s":"C4I","y":0.853},{"x":12.75,"s":"C4I","y":0.846},{"x":13,"s":"C4I","y":0.846},{"x":13.25,"s":"C4I","y":0.794},{"x":13.5,"s":"C4I","y":0.821},{"x":13.75,"s":"C4I","y":0.827},{"x":14,"s":"C4I","y":0.742},{"x":14.25,"s":"C4I","y":0.812},{"x":14.5,"s":"C4I","y":0.864},{"x":14.75,"s":"C4I","y":0.796},{"x":15,"s":"C4I","y":0.796},{"x":15.25,"s":"C4I","y":0.8},{"x":15.5,"s":"C4I","y":0.734},{"x":15.75,"s":"C4I","y":0.789},{"x":16,"s":"C4I","y":0.734},{"x":16.25,"s":"C4I","y":0.748},{"x":16.5,"s":"C4I","y":0.739},{"x":16.75,"s":"C4I","y":0.745},{"x":17,"s":"C4I","y":0.742},{"x":17.25,"s":"C4I","y":0.794},{"x":17.5,"s":"C4I","y":0.775},{"x":17.75,"s":"C4I","y":0.736},{"x":18,"s":"C4I","y":0.712},{"x":18.25,"s":"C4I","y":0.769},{"x":18.5,"s":"C4I","y":0.778},{"x":18.75,"s":"C4I","y":0.693},{"x":19,"s":"C4I","y":0.727},{"x":19.25,"s":"C4I","y":0.76},{"x":19.5,"s":"C4I","y":0.771},{"x":19.75,"s":"C4I","y":0.67},{"x":20,"s":"C4I","y":0.716},{"x":20.25,"s":"C4I","y":0.766},{"x":20.5,"s":"C4I","y":0.739},{"x":20.75,"s":"C4I","y":0.763},{"x":21,"s":"C4I","y":0.739},{"x":21.25,"s":"C4I","y":0.718},{"x":21.5,"s":"C4I","y":0.661},{"x":21.75,"s":"C4I","y":0.743},{"x":22,"s":"C4I","y":0.693},{"x":22.25,"s":"C4I","y":0.743},{"x":22.5,"s":"C4I","y":0.647},{"x":22.75,"s":"C4I","y":0.314},{"x":23,"s":"C4I","y":0.152},{"x":23.25,"s":"C4I","y":0.054},{"x":23.5,"s":"C4I","y":0.02},{"x":23.75,"s":"C4I","y":0.005},{"x":24,"s":"C4I","y":0.003}
]
},
"data": {"name": "d"},
"transform": [{"lookup": "s", "from": {"data": {"name": "names"}, "key": "s", "fields": ["name"]}}],
"layer": [
{
 "mark": {"type": "line", "clip": false},
 "encoding": {
  "x": {"field": "x", "type": "quantitative", "scale": {"domain": [0.96, 24.03], "nice": false, "zero": false}, "axis": {"orient": "bottom", "values": [1,2,3,4,5,6,7,8,9,10,11,12,13,14,15,16,17,18,19,20,21,22,23,24], "format": "d", "labelPadding": 16, "title": "task set utilization cap (prior to overhead accounting)", "titlePadding": 24}},
  "y": {"field": "y", "type": "quantitative", "scale": {"domain": [-0.05, 1.05], "nice": false, "zero": false}, "axis": {"orient": "left", "values": [0,0.1,0.2,0.3,0.4,0.5,0.6,0.7,0.8,0.9,1], "format": "~g", "labelPadding": 18, "title": "ratio of schedulable task sets [hard]", "titlePadding": 34}},
  "color": {"field": "name", "type": "nominal", "title": null,
    "scale": {"domain": ["P-EDF (load)","P-EDF (idle)","EDF-WM (load)","EDF-WM (idle)","NPS-F (load, delta=1)","NPS-F (idle, delta=1)","NPS-F (load, delta=4)","NPS-F (idle, delta=4)","C-NPS-F (load, delta=1)","C-NPS-F (idle, delta=1)","C-NPS-F (load, delta=4)","C-NPS-F (idle, delta=4)"],
              "range": ["#ff0000","#00c000","#1a8cff","#c000ff","#ff9900","#c84800","#000000","#2020c0","#ffc020","#2e8b57","#a08cff","#8b4513"]},
    "legend": {"encode": {"symbols": {"update": {
      "shape": {"signal": "'M-5.3,0H5.3' + ['M-1,0H1M0,-1V1','M-0.85,-0.85L0.85,0.85M-0.85,0.85L0.85,-0.85','M-1,0H1M0,-1V1M-0.7,-0.7L0.7,0.7M-0.7,0.7L0.7,-0.7','M-0.85,-0.85H0.85V0.85H-0.85Z','M-0.85,-0.85H0.85V0.85H-0.85Z','M0.9,0A0.9,0.9,0,1,1,-0.9,0A0.9,0.9,0,1,1,0.9,0Z','M0.9,0A0.9,0.9,0,1,1,-0.9,0A0.9,0.9,0,1,1,0.9,0Z','M0,-1L0.9,0.6H-0.9Z','M0,-1L0.9,0.6H-0.9Z','M0,1L0.9,-0.6H-0.9Z','M0,1L0.9,-0.6H-0.9Z','M0,-1L0.8,0L0,1L-0.8,0Z'][indexof(['P-EDF (load)','P-EDF (idle)','EDF-WM (load)','EDF-WM (idle)','NPS-F (load, delta=1)','NPS-F (idle, delta=1)','NPS-F (load, delta=4)','NPS-F (idle, delta=4)','C-NPS-F (load, delta=1)','C-NPS-F (idle, delta=1)','C-NPS-F (load, delta=4)','C-NPS-F (idle, delta=4)'], datum.value)]"},
      "fill": {"signal": "['transparent','transparent','transparent','transparent','#ff9900','transparent','#000000','transparent','#ffc020','transparent','#a08cff','transparent'][indexof(['P-EDF (load)','P-EDF (idle)','EDF-WM (load)','EDF-WM (idle)','NPS-F (load, delta=1)','NPS-F (idle, delta=1)','NPS-F (load, delta=4)','NPS-F (idle, delta=4)','C-NPS-F (load, delta=1)','C-NPS-F (idle, delta=1)','C-NPS-F (load, delta=4)','C-NPS-F (idle, delta=4)'], datum.value)]"},
      "strokeWidth": {"value": 1.5},
      "opacity": {"value": 1}}}}}},
  "strokeWidth": {"field": "s", "type": "nominal", "legend": null,
    "scale": {"domain": ["PL","PI","WL","WI","N1L","N1I","N4L","N4I","C1L","C1I","C4L","C4I"],
              "range": [1.8,1.8,1.8,1.8,1.8,1.8,1.8,1.8,1.2,1.2,1.2,1.2]}}
 }
},
{
 "mark": {"type": "point", "opacity": 1, "strokeWidth": 1.2, "size": 121, "clip": false},
 "encoding": {
  "x": {"field": "x", "type": "quantitative", "axis": null},
  "y": {"field": "y", "type": "quantitative", "axis": null},
  "stroke": {"field": "s", "type": "nominal", "legend": null,
    "scale": {"domain": ["PL","PI","WL","WI","N1L","N1I","N4L","N4I","C1L","C1I","C4L","C4I"],
              "range": ["#ff0000","#00c000","#1a8cff","#c000ff","#ff9900","#c84800","#000000","#2020c0","#ffc020","#2e8b57","#a08cff","#8b4513"]}},
  "fill": {"field": "s", "type": "nominal", "legend": null,
    "scale": {"domain": ["PL","PI","WL","WI","N1L","N1I","N4L","N4I","C1L","C1I","C4L","C4I"],
              "range": ["transparent","transparent","transparent","transparent","#ff9900","transparent","#000000","transparent","#ffc020","transparent","#a08cff","transparent"]}},
  "shape": {"field": "s", "type": "nominal", "legend": null,
    "scale": {"domain": ["PL","PI","WL","WI","N1L","N1I","N4L","N4I","C1L","C1I","C4L","C4I"],
              "range": ["M-1,0H1M0,-1V1","M-0.85,-0.85L0.85,0.85M-0.85,0.85L0.85,-0.85","M-1,0H1M0,-1V1M-0.7,-0.7L0.7,0.7M-0.7,0.7L0.7,-0.7","M-0.85,-0.85H0.85V0.85H-0.85Z","M-0.85,-0.85H0.85V0.85H-0.85Z","M0.9,0A0.9,0.9,0,1,1,-0.9,0A0.9,0.9,0,1,1,0.9,0Z","M0.9,0A0.9,0.9,0,1,1,-0.9,0A0.9,0.9,0,1,1,0.9,0Z","M0,-1L0.9,0.6H-0.9Z","M0,-1L0.9,0.6H-0.9Z","M0,1L0.9,-0.6H-0.9Z","M0,1L0.9,-0.6H-0.9Z","M0,-1L0.8,0L0,1L-0.8,0Z"]}}
 }
},
{
 "transform": [{"filter": "datum.s === 'PL'"}],
 "mark": {"type": "point", "opacity": 0},
 "encoding": {
  "x": {"field": "x", "type": "quantitative", "axis": {"orient": "top", "values": [1,2,3,4,5,6,7,8,9,10,11,12,13,14,15,16,17,18,19,20,21,22,23,24], "labels": false, "title": null}},
  "y": {"field": "y", "type": "quantitative", "axis": {"orient": "right", "values": [0,0.1,0.2,0.3,0.4,0.5,0.6,0.7,0.8,0.9,1], "labels": false, "title": null}}
 }
}
],
"resolve": {"axis": {"x": "independent", "y": "independent"}}
}
